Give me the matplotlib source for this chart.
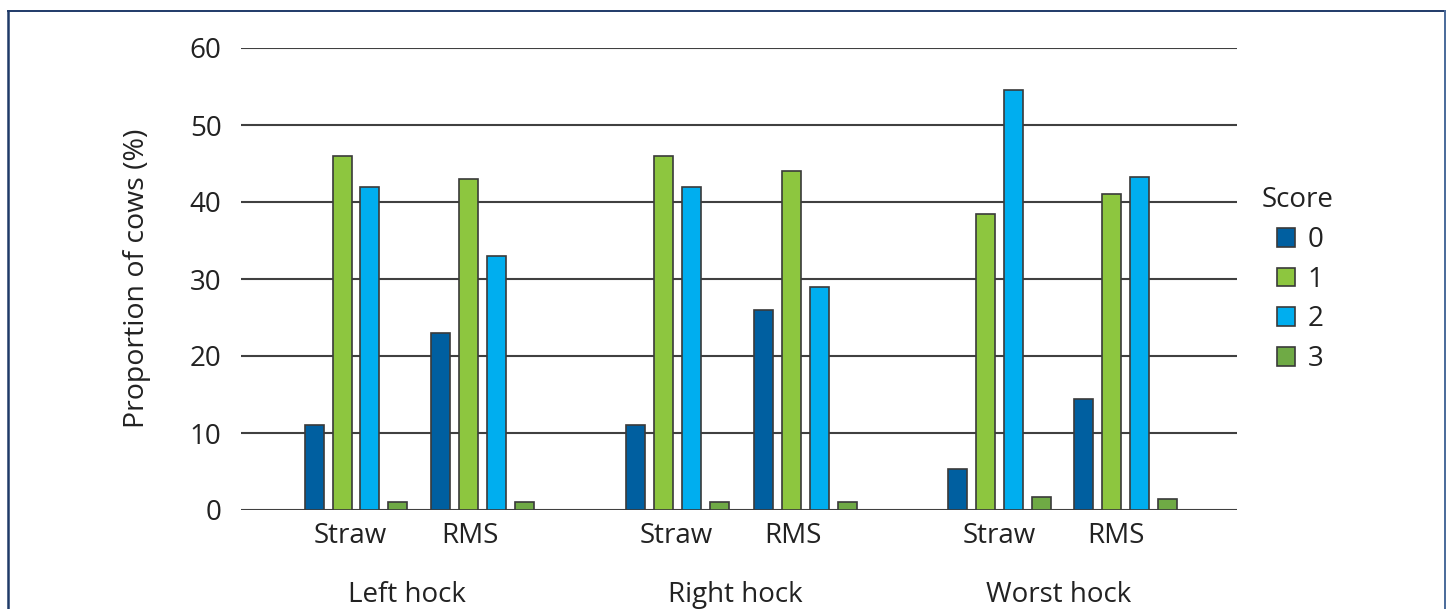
import matplotlib
matplotlib.use("Agg")
import matplotlib.pyplot as plt
from matplotlib.patches import Patch
from matplotlib.lines import Line2D

plt.rcParams["font.family"] = ["Open Sans", "DejaVu Sans"]

# Data: proportion of cows (%) by hock score
groups = ["Left hock", "Right hock", "Worst hock"]
bedding = ["Straw", "RMS"]
scores = ["0", "1", "2", "3"]
score0 = [11, 23, 11, 26, 5.3, 14.4]
score1 = [46, 43, 46, 44, 38.4, 41.0]
score2 = [42, 33, 42, 29, 54.6, 43.2]
score3 = [1, 1, 1, 1, 1.7, 1.4]

COLORS = ["#005FA0", "#8DC63F", "#00AEEF", "#6FAA45"]
EDGE = "#3a3a3a"
TEXT = "#222222"
FS = 20

# Layout (axis units = pixels from the left of the plot area)
cluster_x = [115, 241.5, 437, 564.5, 759, 885]
label_x = [109, 228.5, 435, 551.5, 758, 874.5]
group_x = [165.5, 494, 818]
pitch = 28
bar_w = 19

fig = plt.figure(figsize=(14.48, 6.09), dpi=100)
ax = fig.add_axes([241 / 1448, 1 - 510 / 609, 996 / 1448, 462 / 609])

series = [score0, score1, score2, score3]
for k, vals in enumerate(series):
    xs = [c + (k - 1.5) * pitch for c in cluster_x]
    ax.bar(xs, vals, width=bar_w, color=COLORS[k], edgecolor=EDGE,
           linewidth=1.2, zorder=3)

ax.set_xlim(0, 996)
ax.set_ylim(0, 60)
ax.set_yticks(range(0, 61, 10))
ax.yaxis.grid(True, color="#404040", linewidth=1.5, zorder=1)
ax.tick_params(axis="y", length=0, pad=14, labelsize=FS, labelcolor=TEXT)
ax.set_xticks([])
for s in ax.spines.values():
    s.set_visible(False)

trans = ax.get_xaxis_transform()
for i, x in enumerate(label_x):
    ax.text(x, -0.057, bedding[i % 2], transform=trans, ha="center", va="center",
            fontsize=FS, color=TEXT)
for x, g in zip(group_x, groups):
    ax.text(x, -0.183, g, transform=trans, ha="center", va="center",
            fontsize=FS, color=TEXT)

fig.text(137 / 1448, 1 - 278 / 609, "Proportion of cows (%)", rotation=90,
         ha="center", va="center", fontsize=FS + 0.5, color=TEXT)

# Legend
fig.text(1262 / 1448, 1 - 200 / 609, "Score", ha="left", va="center",
         fontsize=FS, color=TEXT)
handles = [Patch(facecolor=c, edgecolor=EDGE, linewidth=1.2) for c in COLORS]
fig.legend(handles, scores, loc="upper left",
           bbox_to_anchor=(1252 / 1448, 1 - 201 / 609), frameon=False,
           fontsize=FS, handlelength=0.65, handleheight=0.65,
           handletextpad=0.45, labelspacing=0.42, labelcolor=TEXT)

# Frame around the figure (left, top, right)
border = "#1F3A68"
fig.add_artist(Line2D([8 / 1448, 8 / 1448], [0, 1 - 11 / 609], color=border,
                      linewidth=1.8, transform=fig.transFigure))
fig.add_artist(Line2D([8 / 1448, 1445 / 1448], [1 - 11 / 609, 1 - 11 / 609],
                      color=border, linewidth=1.4, transform=fig.transFigure))
fig.add_artist(Line2D([1445 / 1448, 1445 / 1448], [0, 1 - 11 / 609],
                      color="#4A6A9A", linewidth=1.4, transform=fig.transFigure))

fig.savefig("out.png", dpi=100)
